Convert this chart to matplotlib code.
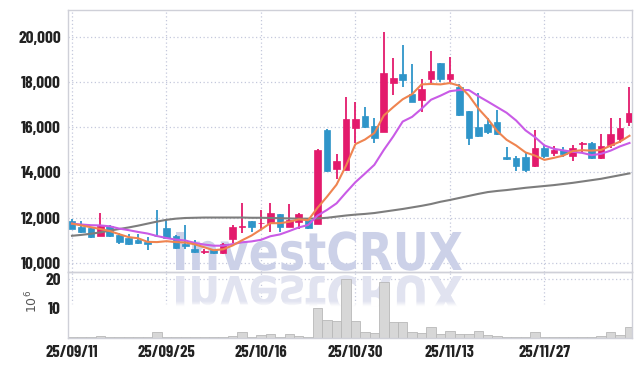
import numpy as np
import matplotlib
matplotlib.use('Agg')
import matplotlib.pyplot as plt
from matplotlib.textpath import TextPath
from matplotlib.patches import PathPatch
from matplotlib.font_manager import FontProperties
import matplotlib.transforms as mtransforms
from matplotlib.ticker import FuncFormatter, FixedLocator

dates = ["25/09/11", "25/09/12", "25/09/15", "25/09/16", "25/09/17", "25/09/18", "25/09/19",
         "25/09/22", "25/09/23", "25/09/24", "25/09/25", "25/09/26", "25/09/29", "25/09/30",
         "25/10/01", "25/10/02", "25/10/10", "25/10/13", "25/10/14", "25/10/15", "25/10/16",
         "25/10/17", "25/10/20", "25/10/21", "25/10/22", "25/10/23", "25/10/24", "25/10/27",
         "25/10/28", "25/10/29", "25/10/30", "25/10/31", "25/11/03", "25/11/04", "25/11/05",
         "25/11/06", "25/11/07", "25/11/10", "25/11/11", "25/11/12", "25/11/13", "25/11/14",
         "25/11/17", "25/11/18", "25/11/19", "25/11/20", "25/11/21", "25/11/24", "25/11/25",
         "25/11/26", "25/11/27", "25/11/28", "25/12/01", "25/12/02", "25/12/03", "25/12/04",
         "25/12/05", "25/12/08", "25/12/09", "25/12/10"]

opens = [11850, 11570, 11520, 11180, 11640, 11240, 11100, 11000, 10900, 11180,
         11520, 11200, 10820, 10590, 10460, 10550, 10430, 11050, 11590, 11840,
         11740, 11760, 12150, 11580, 11810, 11910, 11730, 15880, 14160, 14130,
         15980, 16520, 16060, 15800, 17980, 18350, 17470, 17210, 18150, 18860,
         18160, 17790, 16720, 16000, 16150, 16220, 14680, 14650, 14690, 14290,
         15090, 14870, 15020, 14740, 15270, 15330, 14650, 15210, 15480, 16250]
highs = [11950, 11830, 11580, 12220, 11690, 11300, 11260, 11270, 11140, 12320,
         11950, 11230, 11690, 10990, 10620, 10580, 10870, 11660, 12650, 11850,
         12350, 12650, 12150, 12620, 12200, 11950, 15060, 15930, 14840, 17330,
         17140, 16900, 16400, 20220, 19070, 19660, 18800, 18150, 19390, 18870,
         19110, 17910, 16740, 17510, 16430, 16770, 15140, 14740, 14920, 15880,
         15240, 15180, 15140, 15210, 15360, 15360, 15700, 16430, 16430, 17800]
lows = [11480, 11330, 11070, 11160, 11130, 10830, 10780, 10830, 10580, 11140,
        11040, 10620, 10620, 10430, 10400, 10400, 10380, 10870, 11320, 11360,
        11430, 11360, 11360, 11560, 11510, 11510, 11700, 14030, 13690, 14100,
        15290, 15990, 15290, 15780, 17440, 17800, 17120, 16670, 17910, 18000,
        17950, 16500, 15240, 15580, 15690, 15660, 14570, 14070, 14000, 14250,
        14650, 14710, 14700, 14520, 14860, 14620, 14620, 15070, 15330, 16070]
closes = [11510, 11350, 11140, 11630, 11180, 10900, 10810, 10870, 10820, 11170,
          11070, 10640, 10730, 10460, 10500, 10430, 10810, 11580, 11610, 11580,
          11770, 12220, 11580, 11880, 12150, 11550, 15020, 14070, 14500, 16360,
          16360, 16010, 15540, 18400, 18200, 18100, 17140, 17690, 18500, 18130,
          18370, 16550, 15540, 15630, 15800, 15690, 14600, 14280, 14100, 15090,
          14740, 15020, 14810, 15090, 15300, 14650, 15170, 15730, 15980, 16640]
volumes = [0.2, 0.35, 0.35, 0.7, 0.35, 0.35, 0.1, 0.1, 0.1, 1.8,
           0.35, 0.1, 0.35, 0.1, 0.1, 0.1, 0.35, 0.7, 1.8, 0.35,
           0.8, 1.4, 0.35, 1.1, 0.7, 0.35, 10.2, 5.9, 5.5, 20.1,
           5.5, 1.8, 1.5, 19.1, 5.2, 5.2, 1.8, 1.5, 3.75, 1.1,
           2.4, 1.1, 1.1, 2.4, 0.8, 0.7, 0.2, 0.2, 0.2, 2.0,
           0.2, 0.2, 0.2, 0.2, 0.2, 0.2, 0.45, 2.0, 0.8, 3.75]
ma5 = [11730, 11650, 11570, 11490, 11400, 11260, 11130, 11080, 10920, 10910,
       10950, 10910, 10890, 10810, 10680, 10550, 10590, 10760, 10990, 11200,
       11470, 11750, 11750, 11810, 11920, 11880, 12440, 12930, 13460, 14300,
       15260, 15460, 15750, 16530, 16900, 17250, 17480, 17910, 17930, 17910,
       17970, 17850, 17420, 16840, 16380, 15840, 15450, 15200, 14890, 14750,
       14560, 14650, 14750, 14950, 14990, 14970, 15000, 15190, 15370, 15630]
ma10 = [11730, 11690, 11660, 11650, 11610, 11510, 11440, 11360, 11290, 11180,
        11090, 11020, 10980, 10870, 10800, 10750, 10750, 10820, 10900, 10940,
        11010, 11170, 11250, 11400, 11560, 11670, 12090, 12340, 12630, 13110,
        13570, 13950, 14340, 15000, 15600, 16260, 16470, 16830, 17230, 17410,
        17610, 17660, 17660, 17390, 17150, 16900, 16650, 16310, 15870, 15570,
        15200, 15050, 14980, 14920, 14870, 14770, 14830, 14970, 15160, 15310]
ma60 = [11190, 11230, 11280, 11340, 11420, 11490, 11560, 11640, 11730, 11820,
        11900, 11950, 11980, 11990, 12000, 12000, 12000, 12000, 12000, 11990,
        11990, 11980, 11970, 11960, 11950, 11950, 11960, 11990, 12040, 12090,
        12130, 12160, 12200, 12260, 12320, 12380, 12450, 12520, 12600, 12700,
        12780, 12870, 12960, 13050, 13130, 13180, 13220, 13270, 13320, 13360,
        13400, 13440, 13490, 13540, 13600, 13660, 13720, 13800, 13880, 13960]

price_ticks = [10000, 12000, 14000, 16000, 18000, 20000]
volume_ticks = [10, 20]
label_every = 10
watermark = "InvestCRUX"

# ---------------------------------------------------------------- style
LAB_FAM = ['Barlow Condensed', 'Roboto Condensed', 'DejaVu Sans']
UP, DOWN = '#e31a6c', '#2f95c9'
GRID = '#c4c8dc'
SPINE = '#cfd0d8'

W, H = 642, 366
fig = plt.figure(figsize=(W / 100, H / 100), dpi=100)
fig.patch.set_facecolor('white')
L, R = 68.0, 632.3
T1, B1, B2 = 10.0, 272.3, 337.6
ax1 = fig.add_axes([L / W, 1 - B1 / H, (R - L) / W, (B1 - T1) / H])
ax2 = fig.add_axes([L / W, 1 - B2 / H, (R - L) / W, (B2 - B1) / H], sharex=ax1)

x = np.arange(len(dates))
o = np.array(opens, float); c = np.array(closes, float)
hi = np.array(highs, float); lo = np.array(lows, float)
cols = [UP if cc > oo else DOWN for oo, cc in zip(o, c)]

# watermark and its reflection
tp = TextPath((0, 0), watermark, size=100, prop=FontProperties(family='DejaVu Sans', weight='bold'))
ext = tp.get_extents()
sx = (462 - 176) / ext.width
sy = 38 / 72.9
tr_up = mtransforms.Affine2D().translate(-ext.x0, 0).scale(sx, sy).translate(176, H - 270)
ax1.add_artist(PathPatch(tp, transform=tr_up, facecolor='#ccd1e8', edgecolor='none', zorder=1.5))
tr_dn = mtransforms.Affine2D().translate(-ext.x0, 0).scale(sx, -sy).translate(176, H - 276)
ax2.add_artist(PathPatch(tp, transform=tr_dn, facecolor='#e1e3f0', edgecolor='none', zorder=1.2))
grad = np.ones((100, 2, 4))
yy = np.linspace(0, 1, 100)
grad[:, :, 3] = np.clip((0.56 - yy) / 0.08, 0, 1)[:, None]
ax2.imshow(grad, extent=[0, 1, 0, 1], transform=ax2.transAxes, origin='lower',
           aspect='auto', zorder=1.3, interpolation='bilinear')

# candles
ax1.vlines(x, lo, hi, colors=cols, lw=1.3, zorder=3)
body_h = np.maximum(np.abs(c - o), 30)
ax1.bar(x, body_h, bottom=np.minimum(o, c), width=0.7, color=cols,
        edgecolor=cols, linewidth=0.5, zorder=4)

# moving averages
ax1.plot(x, ma60, color='#7d7d7d', lw=1.5, zorder=5)
ax1.plot(x, ma10, color='#c95be6', lw=1.5, zorder=5)
ax1.plot(x, ma5, color='#ef8450', lw=1.5, zorder=5)

# volume
ax2.bar(x, volumes, width=1.0, color='#d7d7d7', edgecolor='#b8b8b8', linewidth=0.6, zorder=2)

ax1.set_xlim(-0.42, 59.3)
ax1.set_ylim(9569, 21213)
ax2.set_ylim(0, 22.3)

for ax in (ax1, ax2):
    ax.set_facecolor('none')
    ax.grid(True, ls=(0, (1, 2)), color=GRID, lw=0.9)
    ax.set_axisbelow(True)
    for s in ax.spines.values():
        s.set_color(SPINE)
        s.set_linewidth(1.0)
    ax.tick_params(length=0, labelsize=12.5, colors='#222222', pad=5)

ax1.yaxis.set_major_locator(FixedLocator(price_ticks))
ax1.yaxis.set_major_formatter(FuncFormatter(lambda v, p: f"{v:,.0f}"))
ax2.yaxis.set_major_locator(FixedLocator(volume_ticks))
ticks = list(range(0, len(dates), label_every))
ax1.set_xticks(ticks)
ax2.set_xticks(ticks)
ax2.set_xticklabels([dates[i] for i in ticks])
ax1.tick_params(labelbottom=False)
for lab in ax1.get_yticklabels() + ax2.get_yticklabels() + ax2.get_xticklabels():
    lab.set_family(LAB_FAM)
    lab.set_fontweight('bold')
for lab in ax2.get_xticklabels():
    lab.set_fontsize(12)

fig.text(32 / W, 1 - 301 / H, r'$10^6$', rotation=90, color='#555555', fontsize=9,
         ha='center', va='center')

fig.savefig('out.png', dpi=100, facecolor='white')
